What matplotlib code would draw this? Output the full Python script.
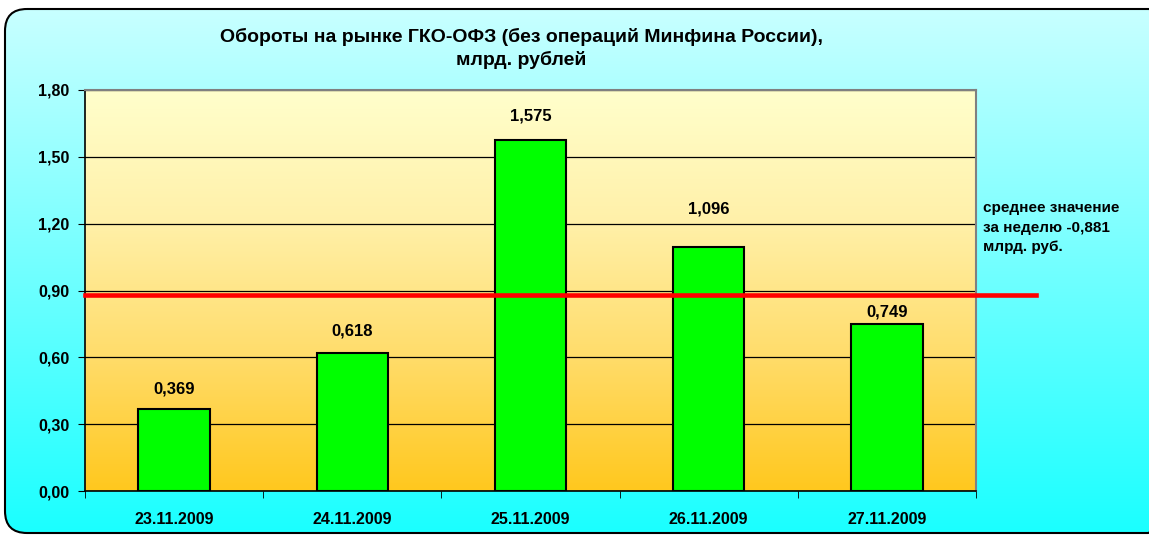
import numpy as np
import matplotlib
matplotlib.use('Agg')
import matplotlib.pyplot as plt
from matplotlib.colors import LinearSegmentedColormap
from matplotlib.patches import FancyBboxPatch
import matplotlib.transforms as mtransforms

plt.rcParams['font.family'] = ['Liberation Sans', 'DejaVu Sans']
plt.rcParams['font.weight'] = 'bold'

#data
dates = ['23.11.2009', '24.11.2009', '25.11.2009', '26.11.2009', '27.11.2009']
turnover = [0.369, 0.618, 1.575, 1.096, 0.749]
avg_value = 0.881
avg_text = 'среднее значение\nза неделю -0,881\nмлрд. руб.'
title = 'Обороты на рынке ГКО-ОФЗ (без операций Минфина России),\nмлрд. рублей'
yticks = [0.0, 0.3, 0.6, 0.9, 1.2, 1.5, 1.8]
#label offsets above bars in pixels (labels were placed by hand in the original)
label_offsets = [20, 22, 24, 38, 12]

fig = plt.figure(figsize=(11.49, 5.35), dpi=100)
fig.patch.set_facecolor('white')

#background with rounded border
bg = fig.add_axes([0, 0, 1, 1])
bg.set_xlim(0, 1149)
bg.set_ylim(535, 0)
bg.axis('off')
bg_cmap = LinearSegmentedColormap.from_list('bg', ['#c8ffff', '#1affff'])
grad = np.linspace(0, 1, 256).reshape(-1, 1)
im = bg.imshow(grad, cmap=bg_cmap, extent=[5, 1170, 533, 9], aspect='auto')
box = FancyBboxPatch((5, 9), 1165, 524, boxstyle='round,pad=0,rounding_size=22',
                     facecolor='none', edgecolor='black', linewidth=1.5)
bg.add_patch(box)
im.set_clip_path(box)

#main plot
ax = fig.add_axes([85/1149, 44/535, 891/1149, 401/535])
ax.set_facecolor('none')
plot_cmap = LinearSegmentedColormap.from_list('pl', ['#ffffcc', '#fff0a8', '#ffdc6a', '#ffc81e'])
ax.imshow(grad, cmap=plot_cmap, extent=[-0.5, 4.5, 0, 1.8], aspect='auto', zorder=0)

x = np.arange(len(dates))
ax.bar(x, turnover, width=0.4, color='#00ff00', edgecolor='black', linewidth=1.5, zorder=3)
for xi, v, off in zip(x, turnover, label_offsets):
    ax.annotate(('%.3f' % v).replace('.', ','), (xi, v), xytext=(0, off*0.72), textcoords='offset points',
                ha='center', va='center', fontsize=12, fontweight='bold', zorder=6)

ax.set_xlim(-0.5, 4.5)
ax.set_ylim(0, 1.8)
ax.set_yticks(yticks)
ax.set_yticklabels([('%.2f' % t).replace('.', ',') for t in yticks], fontsize=11.5, fontweight='bold')
ax.set_xticks(x)
ax.set_xticklabels(dates, fontsize=11.5, fontweight='bold')
ax.set_xticks(np.arange(-0.5, 5, 1), minor=True)
ax.tick_params(axis='x', which='major', length=0, pad=15)
ax.tick_params(axis='x', which='minor', length=5, direction='out')
ax.tick_params(axis='y', length=5, direction='out', pad=6)
ax.grid(axis='y', color='black', linewidth=0.9, zorder=1)
ax.set_axisbelow(True)
for s in ['top', 'right']:
    ax.spines[s].set_color('#808080')
    ax.spines[s].set_linewidth(1.5)
for s in ['left', 'bottom']:
    ax.spines[s].set_color('black')
    ax.spines[s].set_linewidth(1.2)

#average line going past the plot area
trans = mtransforms.blended_transform_factory(ax.transAxes, ax.transData)
ax.plot([0, 1.067], [avg_value, avg_value], color='#ff0000', linewidth=3.3,
        transform=trans, clip_on=False, zorder=5)
ax.text(1.008, 0.656, avg_text, transform=ax.transAxes, fontsize=11, fontweight='bold',
        ha='left', va='center', linespacing=1.5)

fig.text(521/1149, 1 - 48.5/535, title, ha='center', va='center', fontsize=14, fontweight='bold',
         linespacing=1.4)

plt.savefig('out.png', dpi=100)
